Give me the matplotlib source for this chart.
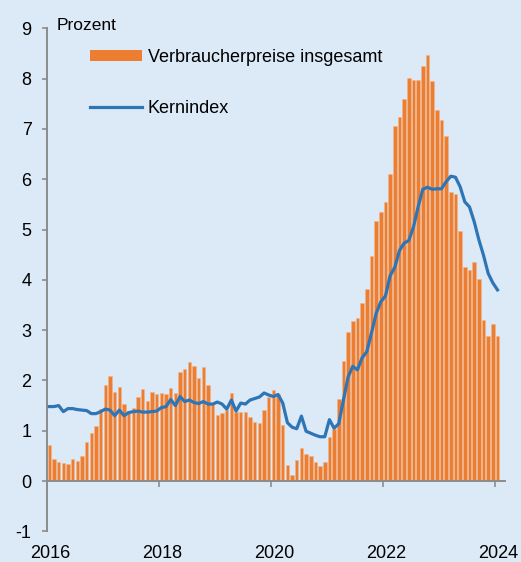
import matplotlib
matplotlib.use('Agg')
import matplotlib.pyplot as plt
from matplotlib.patches import Patch
from matplotlib.lines import Line2D
from matplotlib.transforms import blended_transform_factory
import numpy as np
import pandas as pd

plt.rcParams['font.family'] = ['Liberation Sans', 'DejaVu Sans']

months = pd.period_range('2016-01', '2024-01', freq='M')

# Verbraucherpreise insgesamt, Veraenderung gegenueber Vorjahr in %
hicp = [0.72, 0.44, 0.38, 0.36, 0.34, 0.43, 0.40, 0.50, 0.77, 0.96, 1.09, 1.44,
        1.90, 2.09, 1.77, 1.87, 1.54, 1.40, 1.45, 1.67, 1.83, 1.60, 1.77, 1.73,
        1.74, 1.73, 1.84, 1.75, 2.17, 2.22, 2.36, 2.28, 2.05, 2.27, 1.91, 1.53,
        1.32, 1.35, 1.41, 1.75, 1.38, 1.38, 1.37, 1.27, 1.18, 1.15, 1.41, 1.67,
        1.80, 1.73, 1.12, 0.32, 0.12, 0.42, 0.66, 0.54, 0.49, 0.38, 0.29, 0.37,
        0.88, 1.03, 1.63, 2.38, 2.96, 3.18, 3.24, 3.54, 3.82, 4.48, 5.17, 5.35,
        5.55, 6.10, 7.06, 7.23, 7.59, 8.02, 7.97, 7.97, 8.25, 8.47, 7.96, 7.37,
        7.18, 6.85, 5.75, 5.71, 4.98, 4.25, 4.20, 4.35, 4.02, 3.20, 2.89, 3.13,
        2.89]

# Kernindex
core = [1.48, 1.48, 1.50, 1.38, 1.44, 1.44, 1.42, 1.41, 1.40, 1.34, 1.34, 1.38,
        1.43, 1.41, 1.30, 1.41, 1.30, 1.36, 1.38, 1.39, 1.37, 1.37, 1.38, 1.39,
        1.46, 1.48, 1.62, 1.50, 1.68, 1.58, 1.61, 1.56, 1.54, 1.58, 1.53, 1.53,
        1.57, 1.53, 1.43, 1.61, 1.39, 1.55, 1.53, 1.61, 1.64, 1.67, 1.75, 1.71,
        1.68, 1.72, 1.55, 1.16, 1.07, 1.04, 1.29, 0.99, 0.95, 0.91, 0.88, 0.88,
        1.22, 1.05, 1.14, 1.61, 2.07, 2.28, 2.21, 2.45, 2.57, 2.94, 3.33, 3.56,
        3.68, 4.08, 4.25, 4.58, 4.73, 4.78, 5.05, 5.45, 5.80, 5.84, 5.80, 5.81,
        5.81, 5.95, 6.06, 6.04, 5.85, 5.55, 5.45, 5.16, 4.80, 4.49, 4.13, 3.94,
        3.80]

year_labels = ['2016', '2018', '2020', '2022', '2024']
y_ticks = [-1, 0, 1, 2, 3, 4, 5, 6, 7, 8, 9]

bg = '#dce9f7'
orange = '#ed7d31'
blue = '#2e75b6'
grey = '#8c8c8c'

# x in months since Jan 2016, bars centred in their month
x = np.array([(m.year - 2016) * 12 + m.month - 1 for m in months]) + 0.5
year_pos = [(int(y) - 2016) * 12 for y in year_labels]

fig = plt.figure(figsize=(5.21, 5.62), dpi=100, facecolor=bg)
ax = fig.add_axes([0.0902, 0.0546, 0.879, 0.895], facecolor=bg)

ax.bar(x, hicp, width=0.75, color=orange, edgecolor='#f3b68a', linewidth=0.4,
       zorder=2)
ax.plot(x, core, color=blue, linewidth=2.3, solid_joinstyle='round', zorder=3)

ax.set_xlim(0, 98.1)
ax.set_ylim(-1, 9)

for s in ['top', 'right']:
    ax.spines[s].set_visible(False)
ax.spines['left'].set_color(grey)
ax.spines['left'].set_linewidth(1.4)
ax.spines['bottom'].set_position(('data', 0))
ax.spines['bottom'].set_color(grey)
ax.spines['bottom'].set_linewidth(1.4)
ax.spines['bottom'].set_zorder(4)

ax.set_yticks(y_ticks)
ax.set_yticklabels([str(v) for v in y_ticks])
ax.tick_params(axis='y', direction='out', length=3.6, width=1.2, color=grey,
               pad=7.5, labelsize=13)
ax.set_xticks(year_pos)
ax.set_xticklabels([])
ax.tick_params(axis='x', direction='out', length=4, width=1.2, color=grey)

trans = blended_transform_factory(ax.transData, ax.transAxes)
for pos, lab in zip(year_pos, year_labels):
    ax.text(pos + 0.6, -0.045, lab, transform=trans, ha='center', va='center',
            fontsize=13)

ax.text(0.022, 1.005, 'Prozent', transform=ax.transAxes, ha='left',
        va='center', fontsize=12.5)

handles = [Patch(facecolor=orange, edgecolor='none'),
           Line2D([], [], color=blue, linewidth=2.3)]
leg = ax.legend(handles, ['Verbraucherpreise insgesamt', 'Kernindex'],
                loc='upper left', bbox_to_anchor=(0.094, 0.959),
                frameon=False, fontsize=13, borderpad=0, borderaxespad=0,
                handlelength=2.9, handleheight=0.55, handletextpad=0.3,
                labelspacing=1.9)

fig.savefig('out.png', dpi=100, facecolor=bg)
